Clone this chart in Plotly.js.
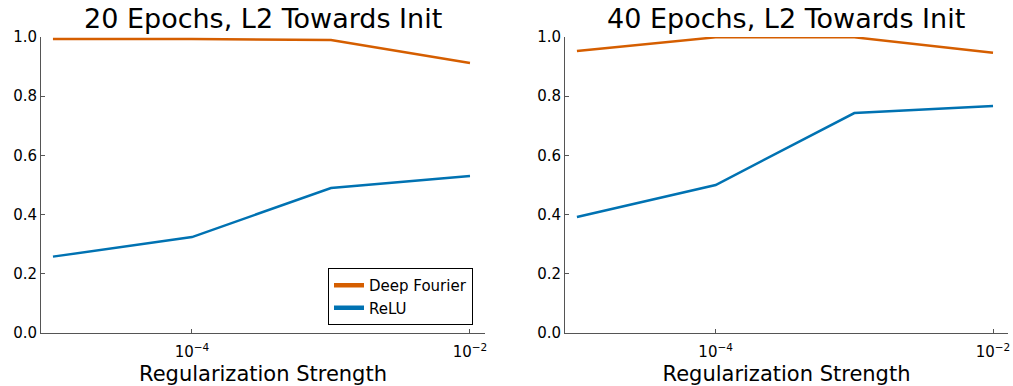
<!DOCTYPE html>
<html>
<head>
<meta charset="utf-8">
<script src="https://cdn.plot.ly/plotly-3.0.1.min.js"></script>
<style>html,body{margin:0;padding:0;background:#fff;}#chart{width:1013px;height:386px;}</style>
</head>
<body>
<div id="chart"></div>
<script>
var strengths = [1e-5, 1e-4, 1e-3, 1e-2];
var fourier20 = [0.993, 0.993, 0.990, 0.912];
var relu20 = [0.258, 0.324, 0.490, 0.530];
var fourier40 = [0.953, 0.999, 0.999, 0.947];
var relu40 = [0.392, 0.500, 0.743, 0.767];
var xTickVals = [1e-4, 1e-2];
var xTickText = ["10<sup>−4</sup>", "10<sup>−2</sup>"];
var yTickVals = [0, 0.2, 0.4, 0.6, 0.8, 1.0];
var yTickText = ["0.0", "0.2", "0.4", "0.6", "0.8", "1.0"];
var titles = ["20 Epochs, L2 Towards Init", "40 Epochs, L2 Towards Init"];
var seriesNames = ["Deep Fourier", "ReLU"];

var orange = "#D55E00", blue = "#0072B2";
var font = "DejaVu Sans, sans-serif";

var traces = [
  {x: strengths, y: fourier20, xaxis: "x", yaxis: "y", mode: "lines", line: {color: orange, width: 2.5}, showlegend: false},
  {x: strengths, y: relu20, xaxis: "x", yaxis: "y", mode: "lines", line: {color: blue, width: 2.5}, showlegend: false},
  {x: strengths, y: fourier40, xaxis: "x2", yaxis: "y2", mode: "lines", line: {color: orange, width: 2.5}, showlegend: false},
  {x: strengths, y: relu40, xaxis: "x2", yaxis: "y2", mode: "lines", line: {color: blue, width: 2.5}, showlegend: false},
  {x: [null], y: [null], xaxis: "x", yaxis: "y", mode: "lines", name: seriesNames[0], line: {color: orange, width: 4.5}},
  {x: [null], y: [null], xaxis: "x", yaxis: "y", mode: "lines", name: seriesNames[1], line: {color: blue, width: 4.5}}
];

function xax(dom, anchor) {
  return {
    type: "log", domain: dom, anchor: anchor, range: [-5.086, -1.892],
    tickvals: xTickVals, ticktext: xTickText, ticks: "inside", ticklen: 4, tickcolor: "#555",
    showline: true, linecolor: "#555", linewidth: 1, showgrid: false, zeroline: false,
    ticklabelstandoff: 5,
    tickfont: {family: font, size: 15, color: "#000"},
    title: {text: "Regularization Strength", font: {family: font, size: 21, color: "#000"}, standoff: 8}
  };
}
function yax(anchor) {
  return {
    domain: [0, 1], anchor: anchor, range: [0, 1],
    tickvals: yTickVals, ticktext: yTickText, ticks: "inside", ticklen: 4, tickcolor: "#555",
    showline: true, linecolor: "#555", linewidth: 1, showgrid: false, zeroline: false,
    tickfont: {family: font, size: 15, color: "#000"}
  };
}

var layout = {
  width: 1013, height: 386,
  margin: {l: 0, r: 0, t: 37, b: 53},
  paper_bgcolor: "#fff", plot_bgcolor: "#fff",
  showlegend: true,
  xaxis: xax([41/1013, 485/1013], "y"),
  yaxis: yax("x"),
  xaxis2: xax([565/1013, 1008/1013], "y2"),
  yaxis2: yax("x2"),
  legend: {
    x: 328/1013, y: (333-268)/296, xanchor: "left", yanchor: "top",
    bgcolor: "#fff", bordercolor: "#000", borderwidth: 1,
    font: {family: font, size: 15, color: "#000"},
    tracegroupgap: 0, itemwidth: 30
  },
  annotations: [
    {text: titles[0], xref: "paper", yref: "paper", x: 263/1013, y: 1, yshift: 1, xanchor: "center", yanchor: "bottom", showarrow: false, font: {family: font, size: 27, color: "#000"}},
    {text: titles[1], xref: "paper", yref: "paper", x: 786/1013, y: 1, yshift: 1, xanchor: "center", yanchor: "bottom", showarrow: false, font: {family: font, size: 27, color: "#000"}}
  ]
};

Plotly.newPlot("chart", traces, layout, {displayModeBar: false, staticPlot: true});
</script>
</body>
</html>
